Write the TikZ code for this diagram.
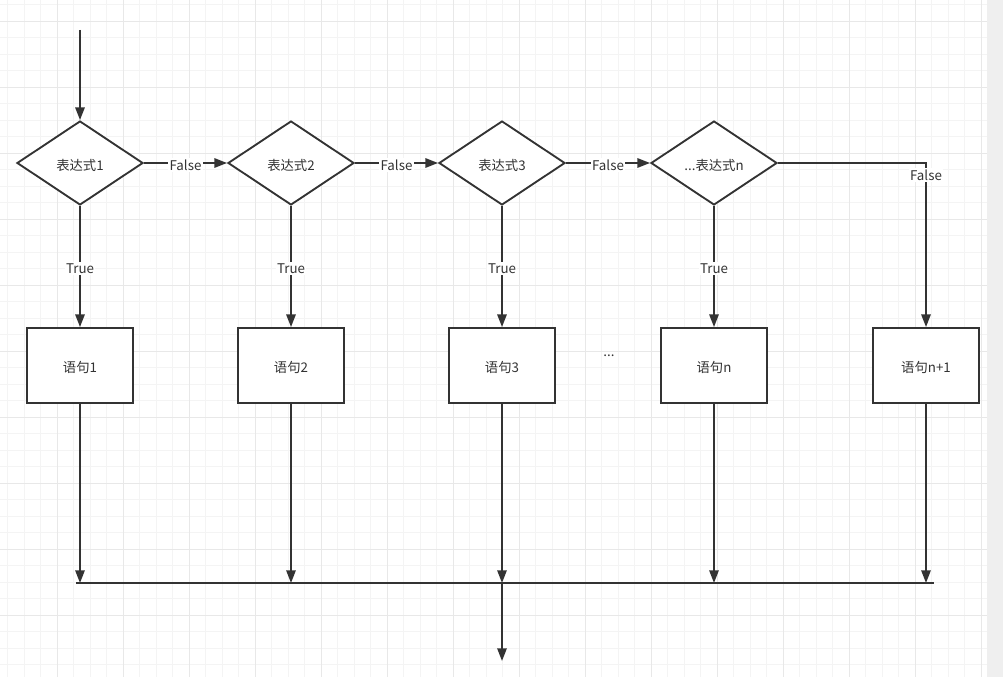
\documentclass[tikz,border=0pt]{standalone}
\usepackage{fontspec}
\setmainfont{Noto Sans CJK SC}
\usetikzlibrary{shapes.geometric,arrows.meta}
\definecolor{ink}{HTML}{333333}
\definecolor{gridminor}{HTML}{F4F4F4}
\definecolor{gridmajor}{HTML}{E8E8E8}
\definecolor{strip}{HTML}{EFEFEF}
\tikzset{
  cond/.style={diamond,draw=ink,line width=1.4pt,fill=white,inner sep=0pt,
    minimum width=94.5pt,minimum height=63pt,text=ink,
    text height=11.8pt,text depth=1.2pt},
  stmt/.style={rectangle,draw=ink,line width=1.4pt,fill=white,
    minimum width=79.5pt,minimum height=56.25pt,text=ink,
    text height=11.8pt,text depth=1.2pt},
  flow/.style={draw=ink,line width=1.4pt,-{Triangle[length=9.5pt,width=7pt]}},
  lbl/.style={fill=white,inner sep=1pt,text=ink,yshift=-1.5pt},
}
\begin{document}
\begin{tikzpicture}[x=0.75pt,y=-0.75pt,font=\fontsize{10}{12}\selectfont]
\useasboundingbox (0,0) rectangle (1003,677);
% grid
\fill[white] (0,0) rectangle (987,677);
\foreach \k in {0,...,59}
  \draw[gridminor,line width=1pt] ({7.8+16.5*\k},0) -- ++(0,677);
\foreach \k in {0,...,40}
  \draw[gridminor,line width=1pt] (0,{4.8+16.5*\k}) -- (987,{4.8+16.5*\k});
\foreach \k in {0,...,14}
  \draw[gridmajor,line width=1pt] ({57.3+66*\k},0) -- ++(0,677);
\foreach \k in {0,...,9}
  \draw[gridmajor,line width=1pt] (0,{21.3+66*\k}) -- (987,{21.3+66*\k});
\fill[strip] (987,0) rectangle (1003,677);
% conditions
\node[cond] (c1) at (80,163) {表达式1};
\node[cond] (c2) at (291,163) {表达式2};
\node[cond] (c3) at (502,163) {表达式3};
\node[cond] (c4) at (714,163) {...表达式n};
% statements
\node[stmt] (s1) at (80,365.5) {语句1};
\node[stmt] (s2) at (291,365.5) {语句2};
\node[stmt] (s3) at (502,365.5) {语句3};
\node[stmt] (s4) at (714,365.5) {语句n};
\node[stmt] (s5) at (926,365.5) {语句n+1};
\node[text=ink] (dots) at (609,356) {...};
\coordinate (in) at (80,30);
\coordinate (mL) at (76,583);
\coordinate (mR) at (934,583);
\coordinate (out) at (502,661);
% connectors
\draw[flow] (in) -- (c1);
\draw[flow] (c1) -- node[lbl]{False} (c2);
\draw[flow] (c2) -- node[lbl]{False} (c3);
\draw[flow] (c3) -- node[lbl]{False} (c4);
\draw[flow] (c4) -| node[lbl,pos=0.53]{False} (s5);
\draw[flow] (c1) -- node[lbl]{True} (s1);
\draw[flow] (c2) -- node[lbl]{True} (s2);
\draw[flow] (c3) -- node[lbl]{True} (s3);
\draw[flow] (c4) -- node[lbl]{True} (s4);
\draw[flow] (s1) -- (s1 |- mL);
\draw[flow] (s2) -- (s2 |- mL);
\draw[flow] (s3) -- (s3 |- mL);
\draw[flow] (s4) -- (s4 |- mL);
\draw[flow] (s5) -- (s5 |- mL);
\draw[draw=ink,line width=1.4pt] (mL) -- (mR);
\draw[flow] (s3 |- mL) -- (out);
\end{tikzpicture}
\end{document}
